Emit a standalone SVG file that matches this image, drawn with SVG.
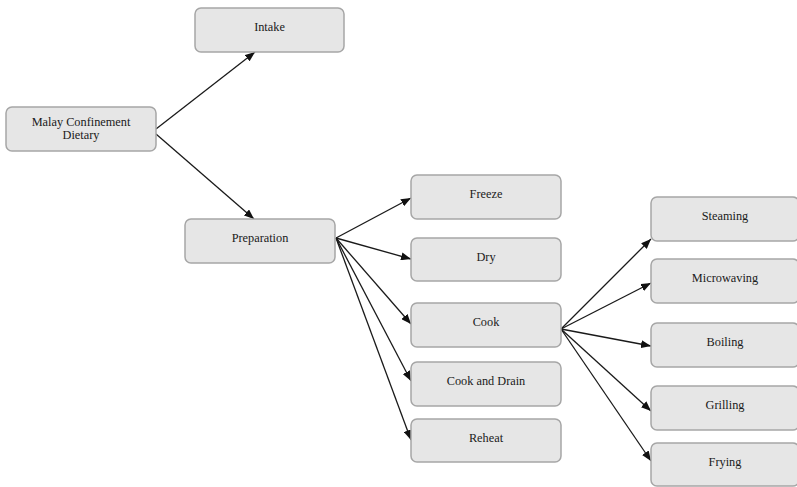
<svg xmlns="http://www.w3.org/2000/svg" width="797" height="487" viewBox="0 0 797 487">
  <style>
    .box { fill: #e6e6e6; stroke: #a6a6a6; stroke-width: 1.5; }
    .lbl { font-family: "Liberation Serif", "Times New Roman", serif; font-size: 12.3px; fill: #1a1a1a; text-anchor: middle; }
    .edge { stroke: #1a1a1a; stroke-width: 1.3; fill: none; marker-end: url(#arrow); }
  </style>
  <defs>
    <marker id="arrow" viewBox="0 0 10 8" refX="10" refY="4" markerWidth="10" markerHeight="8" markerUnits="userSpaceOnUse" orient="auto">
      <path d="M0,0 L10,4 L0,8 Z" fill="#111"/>
    </marker>
  </defs>
  <rect width="797" height="487" fill="#ffffff"/>

  <g id="connectors">
    <line class="edge" x1="156" y1="129" x2="255" y2="52"/>
    <line class="edge" x1="156" y1="134" x2="254" y2="219"/>
    <line class="edge" x1="336" y1="238" x2="411" y2="198"/>
    <line class="edge" x1="336" y1="238" x2="411" y2="259"/>
    <line class="edge" x1="336" y1="238" x2="411" y2="324"/>
    <line class="edge" x1="336" y1="238" x2="411" y2="381"/>
    <line class="edge" x1="336" y1="238" x2="411" y2="440"/>
    <line class="edge" x1="561" y1="329" x2="651" y2="239"/>
    <line class="edge" x1="561" y1="329" x2="651" y2="283"/>
    <line class="edge" x1="561" y1="329" x2="651" y2="346"/>
    <line class="edge" x1="561" y1="329" x2="651" y2="411"/>
    <line class="edge" x1="561" y1="329" x2="651" y2="461"/>
  </g>

  <g id="intake">
    <rect class="box" x="195" y="8" width="149" height="44" rx="6"/>
    <text class="lbl" x="269.5" y="31">Intake</text>
  </g>
  <g id="malay-confinement-dietary">
    <rect class="box" x="6" y="107" width="150" height="44" rx="6"/>
    <text class="lbl" x="81" y="126">Malay Confinement</text>
    <text class="lbl" x="81" y="139">Dietary</text>
  </g>
  <g id="preparation">
    <rect class="box" x="185" y="219" width="150" height="44" rx="6"/>
    <text class="lbl" x="260" y="242">Preparation</text>
  </g>
  <g id="freeze">
    <rect class="box" x="411" y="175" width="150" height="44" rx="6"/>
    <text class="lbl" x="486" y="198">Freeze</text>
  </g>
  <g id="dry">
    <rect class="box" x="411" y="238" width="150" height="43" rx="6"/>
    <text class="lbl" x="486" y="261">Dry</text>
  </g>
  <g id="cook">
    <rect class="box" x="411" y="303" width="150" height="44" rx="6"/>
    <text class="lbl" x="486" y="326">Cook</text>
  </g>
  <g id="cook-and-drain">
    <rect class="box" x="411" y="362" width="150" height="44" rx="6"/>
    <text class="lbl" x="486" y="385">Cook and Drain</text>
  </g>
  <g id="reheat">
    <rect class="box" x="411" y="419" width="150" height="43" rx="6"/>
    <text class="lbl" x="486" y="442">Reheat</text>
  </g>
  <g id="steaming">
    <rect class="box" x="651" y="197" width="148" height="44" rx="6"/>
    <text class="lbl" x="725" y="220">Steaming</text>
  </g>
  <g id="microwaving">
    <rect class="box" x="651" y="259" width="148" height="44" rx="6"/>
    <text class="lbl" x="725" y="282">Microwaving</text>
  </g>
  <g id="boiling">
    <rect class="box" x="651" y="323" width="148" height="44" rx="6"/>
    <text class="lbl" x="725" y="346">Boiling</text>
  </g>
  <g id="grilling">
    <rect class="box" x="651" y="386" width="148" height="44" rx="6"/>
    <text class="lbl" x="725" y="409">Grilling</text>
  </g>
  <g id="frying">
    <rect class="box" x="651" y="443" width="148" height="43" rx="6"/>
    <text class="lbl" x="725" y="466">Frying</text>
  </g>
</svg>
